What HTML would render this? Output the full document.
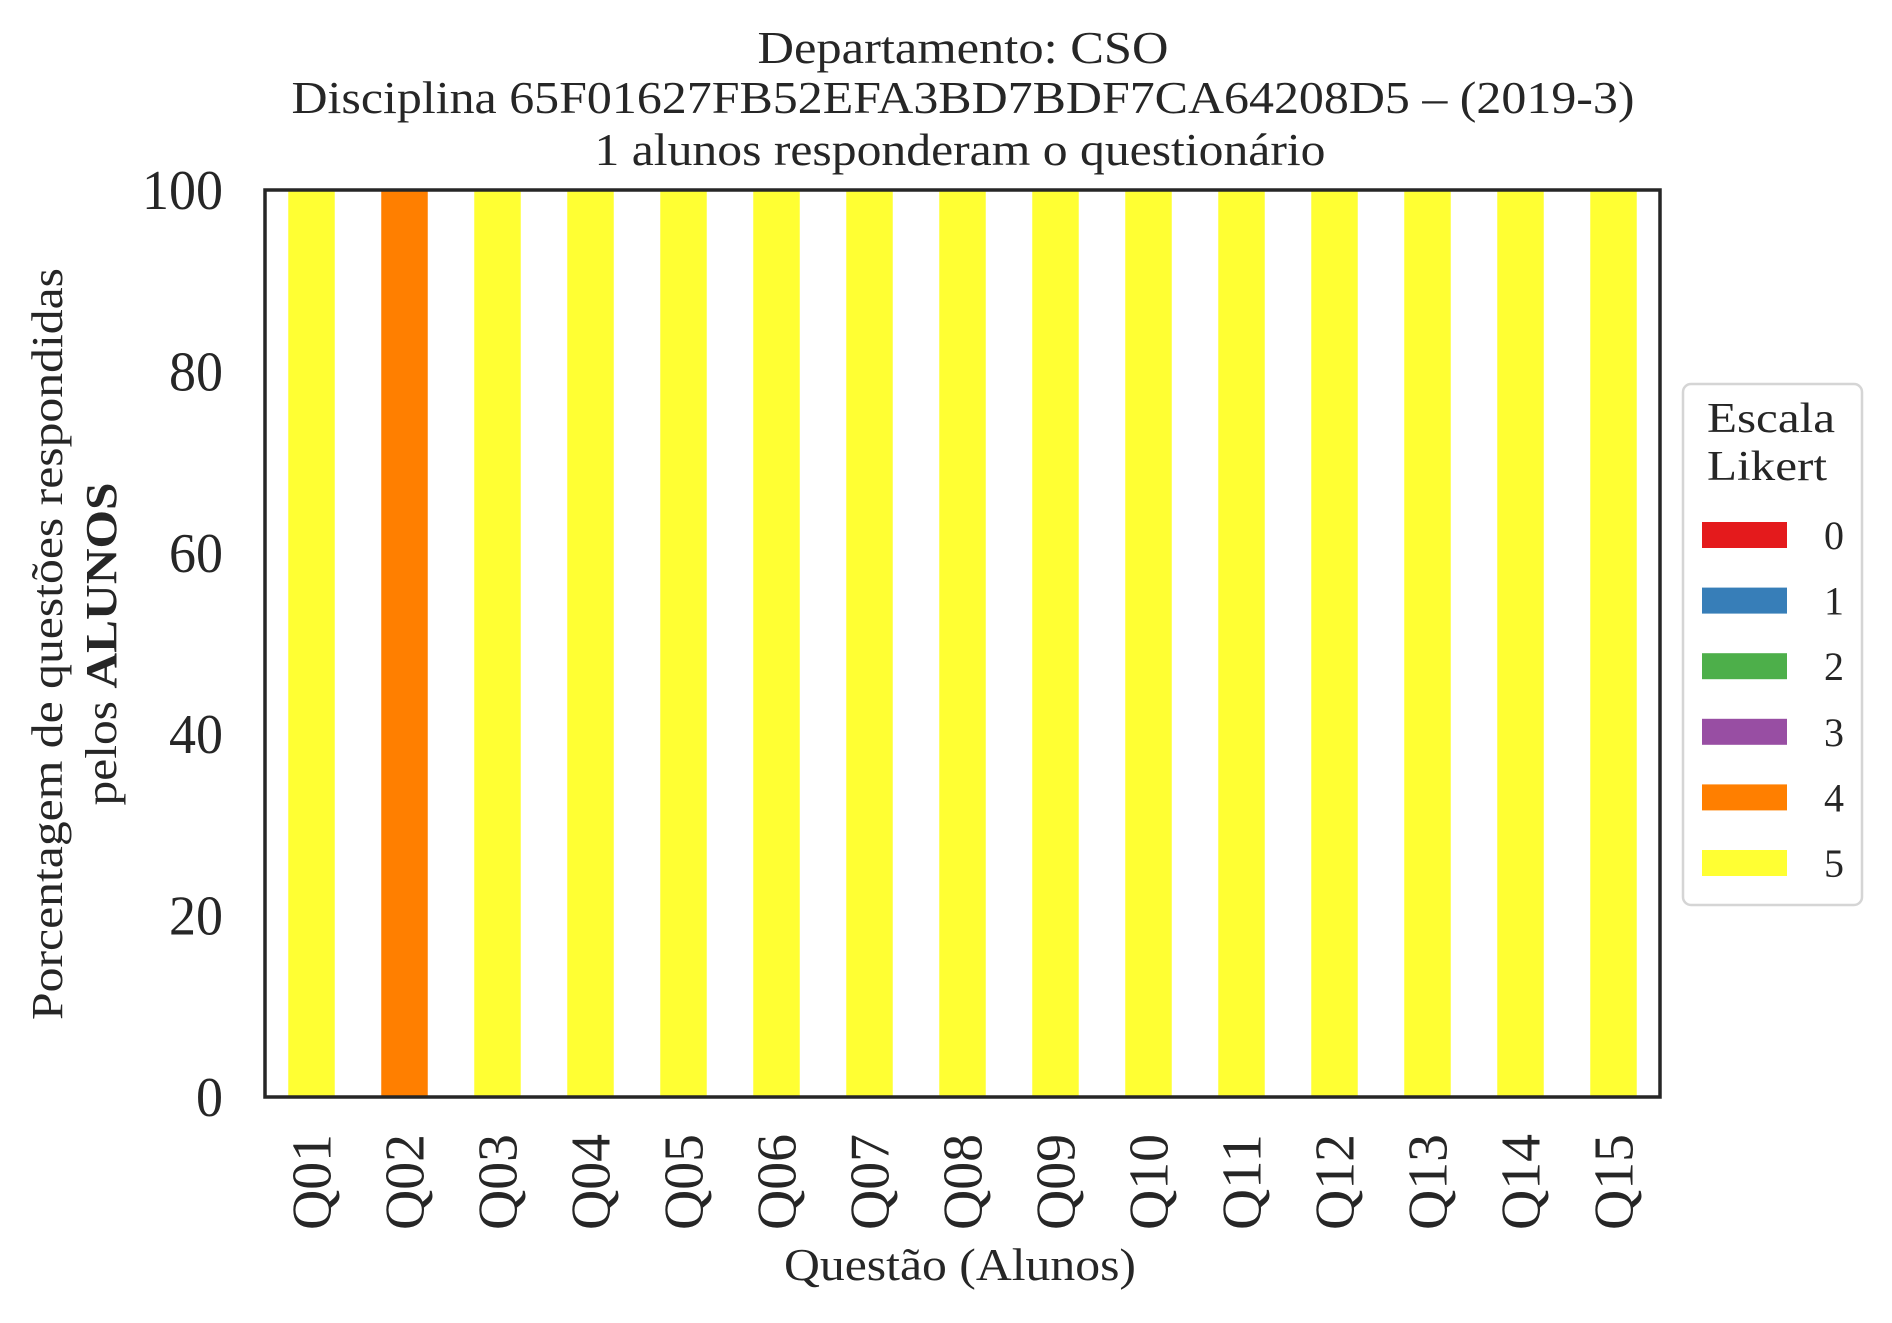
<!DOCTYPE html>
<html><head><meta charset="utf-8"><style>
html,body{margin:0;padding:0;background:#fff;}
svg{display:block;font-family:"Liberation Serif",serif;fill:#262626;}
</style></head><body>
<svg id="chart" width="1892" height="1323" viewBox="0 0 1892 1323" xmlns="http://www.w3.org/2000/svg">
<g>
<text x="963" y="63" font-size="46" text-anchor="middle" textLength="411" lengthAdjust="spacingAndGlyphs">Departamento: CSO</text>
<text x="963" y="113" font-size="46" text-anchor="middle" textLength="1343" lengthAdjust="spacingAndGlyphs">Disciplina 65F01627FB52EFA3BD7BDF7CA64208D5 – (2019-3)</text>
<text x="960" y="165" font-size="46" text-anchor="middle" textLength="731" lengthAdjust="spacingAndGlyphs">1 alunos responderam o questionário</text>
</g>
<g id="bars"></g>
<g id="yticks"></g>
<g id="xticks"></g>
<rect x="265" y="190" width="1395" height="907" fill="none" stroke="#262626" stroke-width="3.5"/>
<g>
<text transform="translate(62,644) rotate(-90)" font-size="44" text-anchor="middle" textLength="752" lengthAdjust="spacingAndGlyphs">Porcentagem de questões respondidas</text>
<text transform="translate(116,644) rotate(-90)" font-size="44" text-anchor="middle" textLength="323" lengthAdjust="spacingAndGlyphs">pelos <tspan font-weight="bold">ALUNOS</tspan></text>
</g>
<text x="960" y="1280" font-size="45" text-anchor="middle" textLength="352" lengthAdjust="spacingAndGlyphs">Questão (Alunos)</text>
<g>
<rect x="1683" y="384" width="179" height="521" rx="8" fill="#fff" stroke="#d5d5d5" stroke-width="2.5"/>
<text x="1707" y="432" font-size="42" textLength="128" lengthAdjust="spacingAndGlyphs">Escala</text>
<text x="1707" y="480" font-size="42" textLength="120" lengthAdjust="spacingAndGlyphs">Likert</text>
<g id="legend-items"></g>
</g>
</svg>
<script>
const categories = ["Q01","Q02","Q03","Q04","Q05","Q06","Q07","Q08","Q09","Q10","Q11","Q12","Q13","Q14","Q15"];
const levels = ["0","1","2","3","4","5"];
const colors = ["#e41a1c","#377eb8","#4daf4a","#984ea3","#ff7f00","#ffff33"];
const s0 = [0,0,0,0,0,0,0,0,0,0,0,0,0,0,0];
const s1 = [0,0,0,0,0,0,0,0,0,0,0,0,0,0,0];
const s2 = [0,0,0,0,0,0,0,0,0,0,0,0,0,0,0];
const s3 = [0,0,0,0,0,0,0,0,0,0,0,0,0,0,0];
const s4 = [0,100,0,0,0,0,0,0,0,0,0,0,0,0,0];
const s5 = [100,0,100,100,100,100,100,100,100,100,100,100,100,100,100];
const yTicks = [0,20,40,60,80,100];
const series = [s0,s1,s2,s3,s4,s5];
const NS = "http://www.w3.org/2000/svg";
const L=265,R=1660,T=190,B=1097;
const band=(R-L)/categories.length;
const xc=i=>L+band*(i+0.5);
const y=v=>B-(v/100)*(B-T);
const bars=document.getElementById('bars');
categories.forEach((c,i)=>{
  let acc=0;
  series.forEach((s,k)=>{
    const v=s[i]; if(!v) return;
    const r=document.createElementNS(NS,'rect');
    r.setAttribute('x',xc(i)-band*0.25);
    r.setAttribute('width',band*0.5);
    r.setAttribute('y',y(acc+v));
    r.setAttribute('height',y(acc)-y(acc+v));
    r.setAttribute('fill',colors[k]);
    
    
    bars.appendChild(r);
    acc+=v;
  });
});
const yt=document.getElementById('yticks');
yTicks.forEach(v=>{
  const t=document.createElementNS(NS,'text');
  t.setAttribute('x',223);
  t.setAttribute('y',y(v)+19);
  t.setAttribute('font-size',56);
  t.setAttribute('text-anchor','end');
  const s=String(v);
  t.setAttribute('textLength',s.length*27);
  t.setAttribute('lengthAdjust','spacingAndGlyphs');
  t.textContent=s;
  
  
  yt.appendChild(t);
});
const xt=document.getElementById('xticks');
categories.forEach((c,i)=>{
  const t=document.createElementNS(NS,'text');
  t.setAttribute('transform','translate('+(xc(i)+19)+',1134) rotate(-90)');
  t.setAttribute('font-size',56);
  t.setAttribute('text-anchor','end');
  t.setAttribute('textLength',96);
  t.setAttribute('lengthAdjust','spacingAndGlyphs');
  t.textContent=c;
  
  
  xt.appendChild(t);
});
const li=document.getElementById('legend-items');
levels.forEach((l,k)=>{
  const yy=522+k*65.6;
  const r=document.createElementNS(NS,'rect');
  r.setAttribute('x',1702);r.setAttribute('y',yy);
  r.setAttribute('width',85);r.setAttribute('height',26);
  r.setAttribute('fill',colors[k]);
  
  
  li.appendChild(r);
  const t=document.createElementNS(NS,'text');
  t.setAttribute('x',1834);t.setAttribute('y',yy+27);
  t.setAttribute('font-size',40);
  t.setAttribute('text-anchor','middle');
  t.textContent=l;
  
  
  li.appendChild(t);
});
</script>
</body></html>
